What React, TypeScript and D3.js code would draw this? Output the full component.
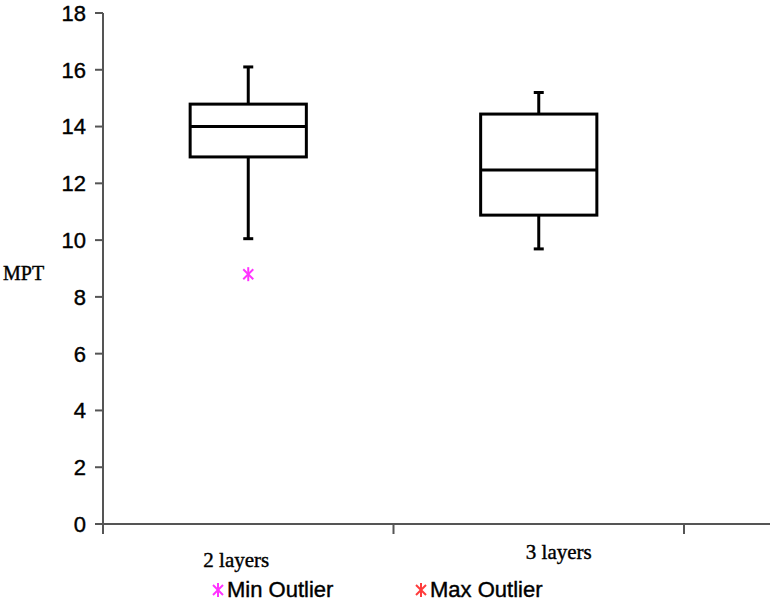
import React, { useEffect, useRef } from 'react';
import * as d3 from 'd3';

// box plot data
const categories = ['2 layers', '3 layers'];
const whiskerLow = [10.05, 9.69];
const q1 = [12.93, 10.88];
const median = [14.0, 12.47];
const q3 = [14.79, 14.44];
const whiskerHigh = [16.1, 15.2];
const minOutliers = [8.8, null];
const maxOutliers = [null, null];

const yTicks = [0, 2, 4, 6, 8, 10, 12, 14, 16, 18];
const legendItems = [
  { label: 'Min Outlier', color: '#ff33ff' },
  { label: 'Max Outlier', color: '#ff3b3b' }
];

const W = 774, H = 603;

export default function App() {
  const ref = useRef<SVGSVGElement>(null);

  useEffect(() => {
    const svg = d3.select(ref.current);
    svg.selectAll('*').remove();

    const left = 103, top = 13, bottom = 524;
    const x = d3.scaleBand().domain(categories).range([left, 684]).paddingInner(0).paddingOuter(0);
    const y = d3.scaleLinear().domain([0, 18]).range([bottom, top]);
    const axisColor = '#555';
    const sans = 'Liberation Sans, Arial, sans-serif';
    const serif = 'Liberation Serif, Times New Roman, serif';

    // y axis
    svg.append('line').attr('x1', left).attr('x2', left).attr('y1', top).attr('y2', bottom + 10)
      .attr('stroke', axisColor).attr('stroke-width', 2);
    const yg = svg.append('g');
    yg.selectAll('line').data(yTicks).enter().append('line')
      .attr('x1', left - 8).attr('x2', left).attr('y1', d => y(d)).attr('y2', d => y(d))
      .attr('stroke', axisColor).attr('stroke-width', 2);
    yg.selectAll('text').data(yTicks).enter().append('text')
      .attr('x', 86).attr('y', d => y(d)).attr('dy', '0.36em').attr('text-anchor', 'end')
      .attr('font-family', sans).attr('font-size', 22).attr('fill', '#000')
      .attr('stroke', '#000').attr('stroke-width', 0.4)
      .text(d => d);

    // x axis
    svg.append('line').attr('x1', left - 8).attr('x2', 770).attr('y1', bottom).attr('y2', bottom)
      .attr('stroke', axisColor).attr('stroke-width', 2);
    const bounds = categories.map(c => (x(c) as number) + x.bandwidth());
    svg.selectAll('line.xtick').data(bounds).enter().append('line').attr('class', 'xtick')
      .attr('x1', d => d).attr('x2', d => d).attr('y1', bottom).attr('y2', bottom + 10)
      .attr('stroke', axisColor).attr('stroke-width', 2);

    const labelShift = [[-12, 567], [20, 559]];
    svg.selectAll('text.xlab').data(categories).enter().append('text').attr('class', 'xlab')
      .attr('x', (d, i) => (x(d) as number) + x.bandwidth() / 2 + labelShift[i][0])
      .attr('y', (d, i) => labelShift[i][1])
      .attr('text-anchor', 'middle').attr('font-family', serif)
      .attr('font-size', 21).attr('fill', '#000').attr('stroke', '#000').attr('stroke-width', 0.4)
      .text(d => d);

    svg.append('text').attr('x', 3).attr('y', 280).attr('font-family', serif)
      .attr('font-size', 20).attr('fill', '#000').attr('stroke', '#000').attr('stroke-width', 0.4)
      .text('MPT');

    // boxes
    const boxW = x.bandwidth() * 0.4;
    const capW = 10;
    categories.forEach((c, i) => {
      const cx = (x(c) as number) + x.bandwidth() / 2;
      const g = svg.append('g').attr('stroke', '#000').attr('stroke-width', 3).attr('fill', 'none');
      g.append('line').attr('x1', cx).attr('x2', cx).attr('y1', y(q3[i])).attr('y2', y(whiskerHigh[i]));
      g.append('line').attr('x1', cx).attr('x2', cx).attr('y1', y(q1[i])).attr('y2', y(whiskerLow[i]));
      g.append('line').attr('x1', cx - capW / 2).attr('x2', cx + capW / 2).attr('y1', y(whiskerHigh[i])).attr('y2', y(whiskerHigh[i]));
      g.append('line').attr('x1', cx - capW / 2).attr('x2', cx + capW / 2).attr('y1', y(whiskerLow[i])).attr('y2', y(whiskerLow[i]));
      g.append('rect').attr('x', cx - boxW / 2).attr('y', y(q3[i])).attr('width', boxW).attr('height', y(q1[i]) - y(q3[i]));
      g.append('line').attr('x1', cx - boxW / 2).attr('x2', cx + boxW / 2).attr('y1', y(median[i])).attr('y2', y(median[i]));
    });

    const star = (g: any, cx: number, cy: number, color: string) => {
      const s = g.append('g').attr('stroke', color).attr('stroke-width', 2);
      s.append('line').attr('x1', cx).attr('x2', cx).attr('y1', cy - 7).attr('y2', cy + 7);
      s.append('line').attr('x1', cx - 5).attr('x2', cx + 5).attr('y1', cy - 5).attr('y2', cy + 5);
      s.append('line').attr('x1', cx - 5).attr('x2', cx + 5).attr('y1', cy + 5).attr('y2', cy - 5);
    };

    categories.forEach((c, i) => {
      const cx = (x(c) as number) + x.bandwidth() / 2;
      if (minOutliers[i] != null) star(svg, cx, y(minOutliers[i] as number), legendItems[0].color);
      if (maxOutliers[i] != null) star(svg, cx, y(maxOutliers[i] as number), legendItems[1].color);
    });

    // legend
    const legendX = [218, 421];
    legendItems.forEach((it, i) => {
      star(svg, legendX[i], 590, it.color);
      svg.append('text').attr('x', legendX[i] + 9).attr('y', 597)
        .attr('font-family', sans).attr('font-size', 22).attr('fill', '#000')
        .attr('stroke', '#000').attr('stroke-width', 0.4)
        .text(it.label);
    });
  }, []);

  return (
    <svg ref={ref} width={W} height={H}
      style={{ position: 'absolute', left: 0, top: 0, background: '#fff', display: 'block' }} />
  );
}
